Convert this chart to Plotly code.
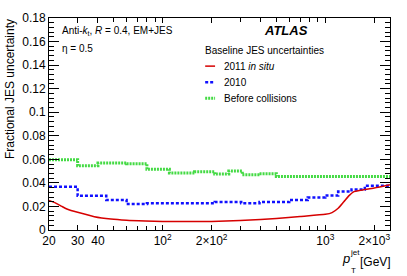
import numpy as np
import plotly.graph_objects as go

# ---- data ----
# 2011 in situ (smooth curve)
insitu_pt = [20, 22, 24, 26, 30, 38, 48, 60, 78, 100, 150, 200, 300, 400, 500,
             700, 1000, 1100, 1200, 1300, 1400, 1500, 1650, 2000, 2500]
insitu_unc = [0.0250, 0.0228, 0.0200, 0.0176, 0.0150, 0.0113, 0.0093, 0.0083, 0.0077,
              0.0073, 0.0072, 0.0073, 0.0081, 0.0090, 0.0098, 0.0115, 0.0133, 0.0148,
              0.0185, 0.0240, 0.0292, 0.0326, 0.0338, 0.0356, 0.0384]

# 2010 (step function: bin low edges + last upper edge)
y2010_edges = [20, 30, 45, 60, 80, 209, 304, 394, 600, 780, 1000, 1200, 1450, 1750, 2500]
y2010_unc = [0.0367, 0.0290, 0.0255, 0.0220, 0.0227, 0.0238, 0.0227, 0.0238,
             0.0255, 0.0277, 0.0293, 0.0326, 0.0343, 0.0375]

# Before collisions (step function)
before_edges = [20, 30, 40, 60, 80, 110, 157, 209, 255, 309, 394, 500, 2500]
before_unc = [0.0597, 0.0545, 0.0568, 0.0563, 0.0515, 0.0485, 0.0495, 0.0475,
              0.0500, 0.0470, 0.0477, 0.0455]

x_tickvals = [20, 30, 40, 100, 200, 1000, 2000]
x_ticktext = ["20", "30", "40", "10<sup>2</sup>", "2×10<sup>2</sup>",
              "10<sup>3</sup>", "2×10<sup>3</sup>"]
x_minor = [50, 60, 70, 80, 90, 300, 400, 500, 600, 700, 800, 900]

FONT = "Liberation Sans, Arial, Helvetica, sans-serif"
RED = "#d60000"
BLUE = "#1010ff"
GREEN = "#44da44"


def step_xy(edges, vals):
    return list(edges), list(vals) + [vals[-1]]


fig = go.Figure()

bx, by = step_xy(before_edges, before_unc)
fig.add_trace(go.Scatter(x=bx, y=by, mode="lines", line_shape="hv",
                         line=dict(color=GREEN, width=3, dash="2px,1px"),
                         name="Before collisions"))
bx, by = step_xy(y2010_edges, y2010_unc)
fig.add_trace(go.Scatter(x=bx, y=by, mode="lines", line_shape="hv",
                         line=dict(color=BLUE, width=2.5, dash="3px,2px"),
                         name="2010"))
fig.add_trace(go.Scatter(x=insitu_pt, y=insitu_unc, mode="lines",
                         line=dict(color=RED, width=1.5, shape="spline", smoothing=0.6),
                         name="2011 in situ"))

fig.update_layout(
    width=407, height=276,
    margin=dict(l=49, r=17, t=11, b=46),
    paper_bgcolor="white", plot_bgcolor="white",
    showlegend=False,
    font=dict(family=FONT, size=12, color="black"),
)

fig.update_xaxes(
    type="log", range=[np.log10(20), np.log10(2500)],
    tickmode="array", tickvals=x_tickvals, ticktext=x_ticktext,
    ticks="inside", ticklen=5, tickwidth=1, tickcolor="black",
    showline=True, linecolor="black", linewidth=1, mirror="ticks",
    showgrid=False, zeroline=False, ticklabelstandoff=0,
    tickfont=dict(family=FONT, size=12),
    minor=dict(tickmode="array", tickvals=x_minor, ticks="inside",
               ticklen=4, tickcolor="black", showgrid=False),
)
fig.update_yaxes(
    range=[0, 0.18], dtick=0.02, tick0=0,
    ticks="inside", ticklen=10, tickwidth=1, tickcolor="black",
    showline=True, linecolor="black", linewidth=1, mirror="ticks",
    showgrid=False, zeroline=False,
    tickfont=dict(family=FONT, size=12),
    minor=dict(dtick=0.004, ticks="inside", ticklen=5, tickcolor="black",
               showgrid=False),
)

ann = []
# y-axis title (right-aligned to top, ROOT style)
ann.append(dict(text="Fractional JES uncertainty", xref="paper", yref="paper",
                x=-0.114, y=1.005, xanchor="center", yanchor="top", textangle=-90,
                showarrow=False, font=dict(family=FONT, size=12)))
# x-axis title pieces
ann.append(dict(text="<i>p</i>", xref="paper", yref="paper", x=0.853, y=-0.135,
                xanchor="left", yanchor="middle", showarrow=False,
                font=dict(family=FONT, size=13)))
ann.append(dict(text="jet", xref="paper", yref="paper", x=0.876, y=-0.108,
                xanchor="left", yanchor="middle", showarrow=False,
                font=dict(family=FONT, size=8)))
ann.append(dict(text="T", xref="paper", yref="paper", x=0.88, y=-0.19,
                xanchor="left", yanchor="middle", showarrow=False,
                font=dict(family=FONT, size=8)))
ann.append(dict(text="[GeV]", xref="paper", yref="paper", x=1.01, y=-0.15,
                xanchor="right", yanchor="middle", showarrow=False,
                font=dict(family=FONT, size=12)))
# labels inside
ann.append(dict(text="Anti-<i>k</i><sub>t</sub>, <i>R</i> = 0.4, EM+JES", xref="paper",
                yref="paper", x=0.033, y=0.94, xanchor="left", yanchor="middle",
                showarrow=False, font=dict(family=FONT, size=10)))
ann.append(dict(text="η = 0.5", xref="paper", yref="paper", x=0.033, y=0.855,
                xanchor="left", yanchor="middle", showarrow=False,
                font=dict(family=FONT, size=10)))
ann.append(dict(text="<b><i>ATLAS</i></b>", xref="paper", yref="paper", x=0.695,
                y=0.94, xanchor="center", yanchor="middle", showarrow=False,
                font=dict(family=FONT, size=13)))
# legend (drawn manually)
ann.append(dict(text="Baseline JES uncertainties", xref="paper", yref="paper",
                x=0.452, y=0.848, xanchor="left", yanchor="middle", showarrow=False,
                font=dict(family=FONT, size=10)))
leg_items = [("2011 <i>in situ</i>", RED, "solid", 1.5, 0.773),
             ("2010", BLUE, "3px,2px", 2.5, 0.697),
             ("Before collisions", GREEN, "2px,1px", 3, 0.621)]
shapes = []
for label, col, dash, w, yy in leg_items:
    ann.append(dict(text=label, xref="paper", yref="paper", x=0.506, y=yy,
                    xanchor="left", yanchor="middle", showarrow=False,
                    font=dict(family=FONT, size=10)))
    shapes.append(dict(type="line", xref="paper", yref="paper", x0=0.458, x1=0.487,
                       y0=yy, y1=yy, line=dict(color=col, width=w, dash=dash)))

fig.update_layout(annotations=ann, shapes=shapes)
fig.write_html("out.html", config={"displayModeBar": False},
               post_script="document.body.style.margin='0';document.body.style.overflow='hidden';")
